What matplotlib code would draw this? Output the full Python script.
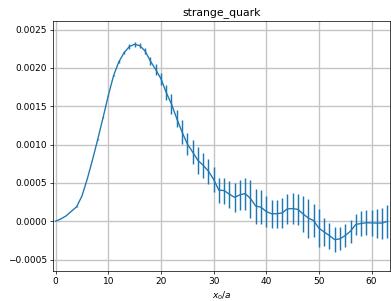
import numpy as np
import matplotlib
matplotlib.use("Agg")
import matplotlib.pyplot as plt

title = "strange_quark"
x_label = "$x_0/a$"

x0 = list(range(64))
values = [
    0.0, 0.00003, 0.00007, 0.00013, 0.00019, 0.00033, 0.00055, 0.00080,
    0.00107, 0.00135, 0.00164, 0.00190, 0.00208, 0.00220, 0.00228, 0.00231,
    0.00229, 0.00222, 0.00209, 0.00198, 0.00186, 0.00168, 0.00153, 0.00134,
    0.001166, 0.001009, 0.000905, 0.000796, 0.000731, 0.000655, 0.000546, 0.000405,
    0.000400, 0.000352, 0.000311, 0.000344, 0.000361, 0.000296, 0.000198, 0.000183,
    0.000126, 0.000098, 0.000098, 0.000107, 0.000161, 0.000165, 0.000154, 0.000094,
    0.000041, 0.000008, -0.000091, -0.000140, -0.000189, -0.000241, -0.000230, -0.000187,
    -0.000130, -0.000042, -0.000030, -0.000020, -0.000022, -0.000024, -0.000024, -0.000002,
]
errors = [
    0.0, 0.000001, 0.000001, 0.000002, 0.000002, 0.000003, 0.000004, 0.000005,
    0.000006, 0.000007, 0.000008, 0.00001, 0.00002, 0.00002, 0.00003, 0.00003,
    0.00003, 0.00004, 0.00005, 0.00007, 0.00008, 0.00010, 0.00013, 0.00011,
    0.000152, 0.000148, 0.000161, 0.000174, 0.000161, 0.000163, 0.000163, 0.000165,
    0.000170, 0.000174, 0.000189, 0.000200, 0.000209, 0.000248, 0.000228, 0.000222,
    0.000200, 0.000185, 0.000185, 0.000202, 0.000200, 0.000205, 0.000207, 0.000233,
    0.000255, 0.000213, 0.000244, 0.000187, 0.000168, 0.000159, 0.000148, 0.000148,
    0.000152, 0.000141, 0.000165, 0.000163, 0.000174, 0.000189, 0.000202, 0.000211,
]

dpi = 65
fig = plt.figure(figsize=(391 / dpi, 301 / dpi), dpi=dpi)
ax = fig.add_axes([53 / 391, 30 / 301, 337 / 391, 250.5 / 301])
ax.errorbar(x0, values, yerr=errors, color="#1f77b4", elinewidth=1.6)
ax.set_title(title)
ax.set_xlabel(x_label)
ax.set_xlim(-0.5, 63.5)
ax.set_ylim(-0.00065, 0.00262)
ax.set_xticks([0, 10, 20, 30, 40, 50, 60])
ax.set_yticks([-0.0005, 0.0, 0.0005, 0.0010, 0.0015, 0.0020, 0.0025])
ax.grid(True, color="#c4c4c4", linewidth=1.5)
ax.set_axisbelow(True)
fig.savefig("out.png", dpi=dpi)
